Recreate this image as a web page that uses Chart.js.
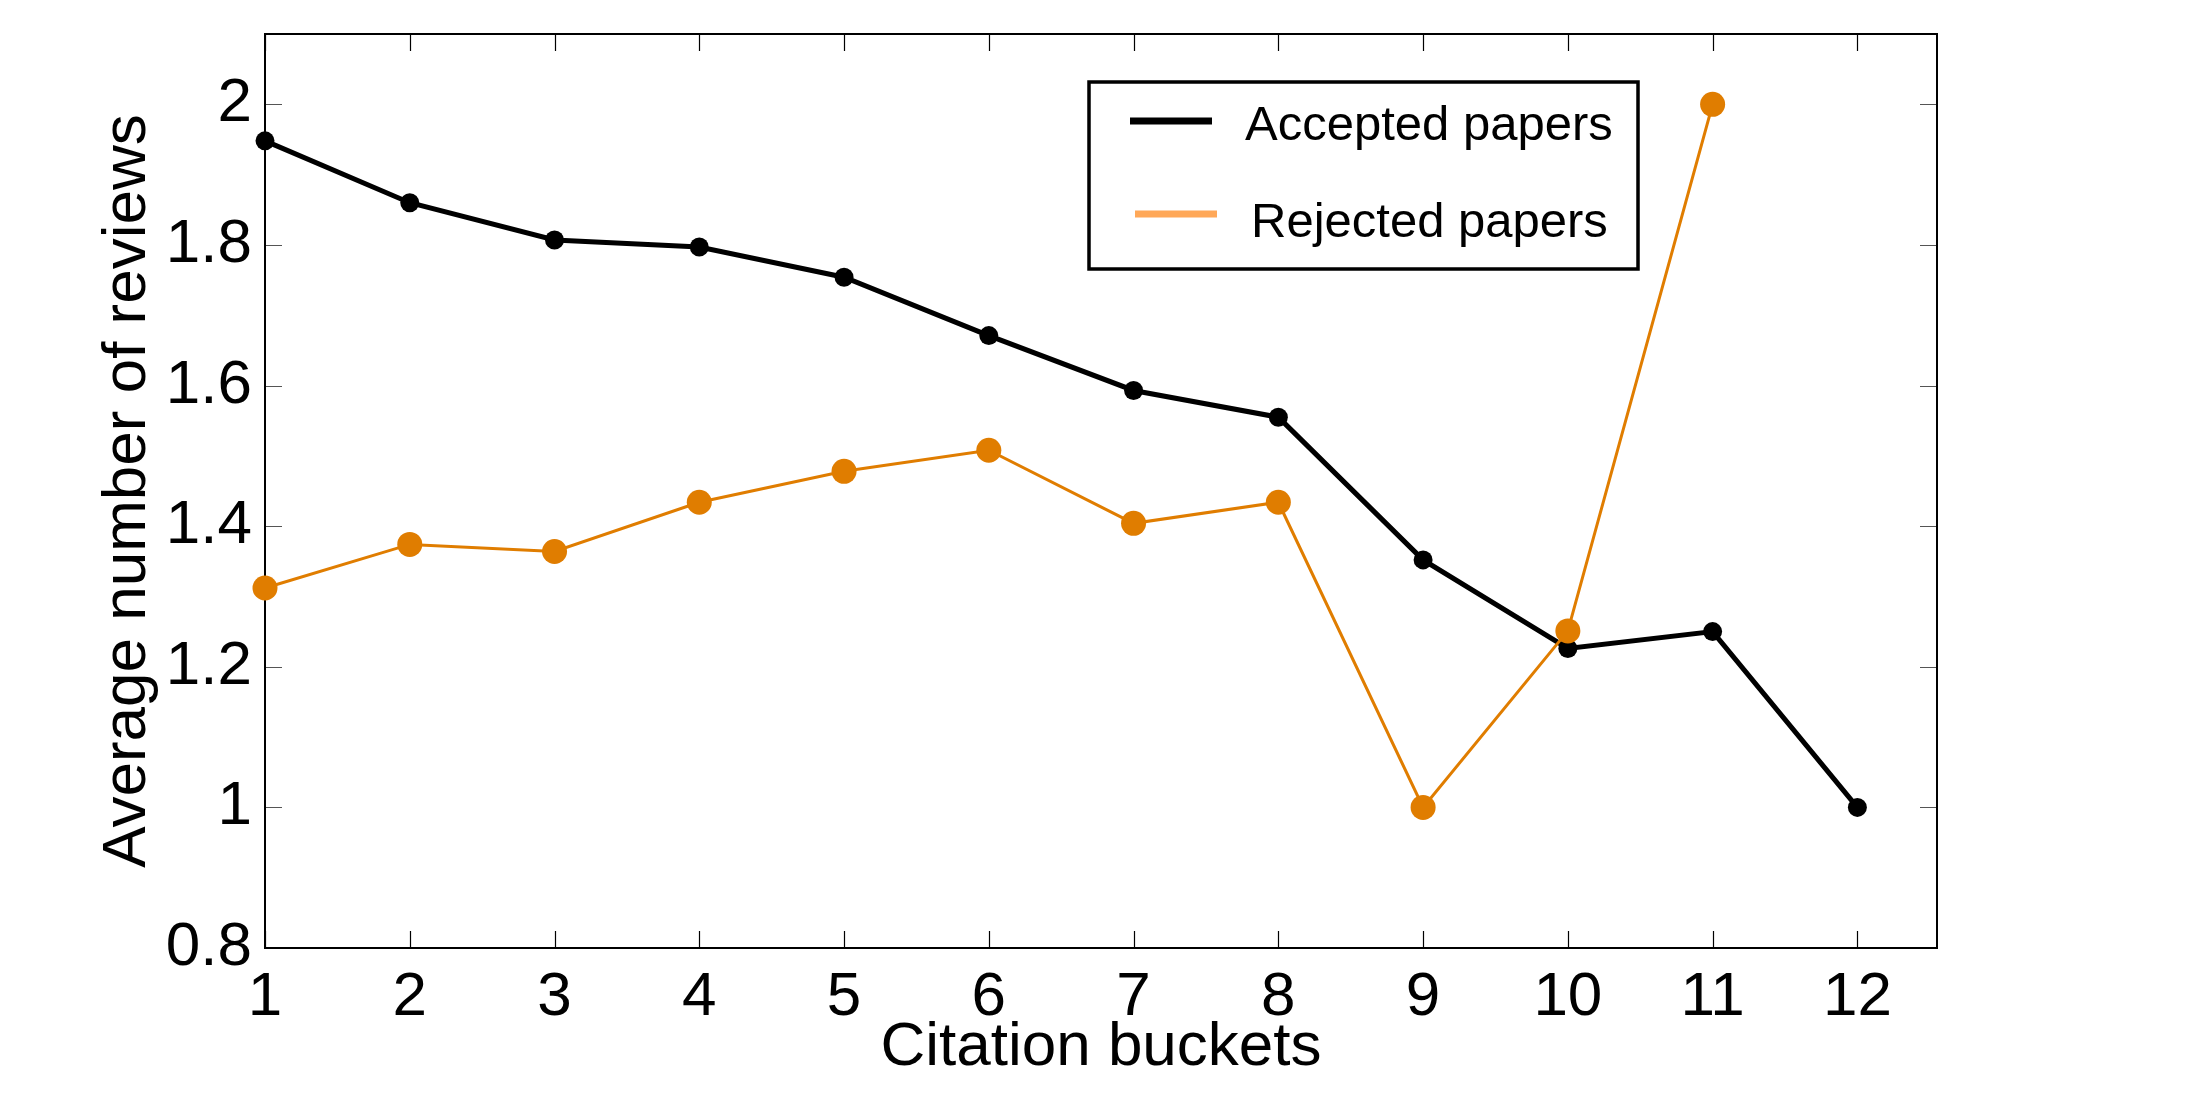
<!DOCTYPE html>
<html><head><meta charset="utf-8">
<script src="https://cdn.jsdelivr.net/npm/chart.js@4/dist/chart.umd.min.js"></script>
<style>html,body{margin:0;padding:0;background:#fff;overflow:hidden}#wrap{width:2194px;height:1115px;position:relative}</style>
</head><body><div id="wrap"><canvas id="c"></canvas></div>
<script>
const categories = [1, 2, 3, 4, 5, 6, 7, 8, 9, 10, 11, 12];
const acceptedValues = [1.948, 1.860, 1.807, 1.797, 1.754, 1.671, 1.593, 1.555, 1.352, 1.226, 1.250, 1.000];
const rejectedValues = [1.312, 1.374, 1.364, 1.434, 1.478, 1.508, 1.404, 1.434, 1.000, 1.251, 2.000, null];
const seriesLabels = ['Accepted papers', 'Rejected papers'];
const xTickValues = [1, 2, 3, 4, 5, 6, 7, 8, 9, 10, 11, 12];
const yTickValues = [0.8, 1.0, 1.2, 1.4, 1.6, 1.8, 2.0];
const yTickLabels = ['0.8', '1', '1.2', '1.4', '1.6', '1.8', '2'];
const xTitle = 'Citation buckets';
const yTitle = 'Average number of reviews';

const FONT = '"Liberation Sans", Arial, Helvetica, sans-serif';
const ORANGE = 'rgb(224,125,0)';
const ORANGE_LEGEND = 'rgb(255,168,88)';

function toPoints(vals) {
  return categories.map((c, i) => ({x: c, y: vals[i]})).filter(p => p.y !== null);
}

const frameAndTicks = {
  id: 'frameAndTicks',
  beforeDatasetsDraw(chart) {
    const {ctx, chartArea: a, scales: {x, y}} = chart;
    ctx.save();
    ctx.strokeStyle = '#000';
    ctx.lineWidth = 1.2;
    const L = 17;
    xTickValues.forEach(v => {
      const px = Math.round(x.getPixelForValue(v)) + 0.5;
      ctx.beginPath();
      ctx.moveTo(px, a.bottom); ctx.lineTo(px, a.bottom - L);
      ctx.moveTo(px, a.top); ctx.lineTo(px, a.top + L);
      ctx.stroke();
    });
    ctx.strokeStyle = '#555';
    yTickValues.forEach(v => {
      const py = Math.round(y.getPixelForValue(v)) + 0.5;
      ctx.beginPath();
      ctx.moveTo(a.left, py); ctx.lineTo(a.left + L, py);
      ctx.moveTo(a.right, py); ctx.lineTo(a.right - L, py);
      ctx.stroke();
    });
    ctx.strokeStyle = '#000';
    ctx.lineWidth = 2;
    ctx.strokeRect(a.left, a.top, a.right - a.left, a.bottom - a.top);
    ctx.restore();
  }
};

const boxLegend = {
  id: 'boxLegend',
  afterDraw(chart) {
    const {ctx} = chart;
    const ds = chart.data.datasets;
    ctx.save();
    ctx.fillStyle = '#fff';
    ctx.fillRect(1089, 82, 549, 187);
    ctx.strokeStyle = '#000';
    ctx.lineWidth = 3.5;
    ctx.strokeRect(1089, 82, 549, 187);
    const rows = [
      {line: [1130, 1212], ly: 121, tx: 1245, ty: 140, color: ds[0].borderColor},
      {line: [1135, 1217], ly: 214, tx: 1251, ty: 237, color: ORANGE_LEGEND}
    ];
    ctx.font = '49px ' + FONT;
    ctx.textBaseline = 'alphabetic';
    ctx.textAlign = 'left';
    rows.forEach((r, i) => {
      ctx.strokeStyle = r.color;
      ctx.lineWidth = 7;
      ctx.beginPath();
      ctx.moveTo(r.line[0], r.ly); ctx.lineTo(r.line[1], r.ly);
      ctx.stroke();
      ctx.fillStyle = '#000';
      ctx.fillText(ds[i].label, r.tx, r.ty);
    });
    ctx.restore();
  }
};

new Chart(document.getElementById('c'), {
  type: 'line',
  data: {
    datasets: [
      {
        label: seriesLabels[0],
        data: toPoints(acceptedValues),
        borderColor: '#000', backgroundColor: '#000',
        borderWidth: 5, pointRadius: 9.5, pointHoverRadius: 9.5,
        pointBorderWidth: 0, tension: 0, clip: false, order: 1
      },
      {
        label: seriesLabels[1],
        data: toPoints(rejectedValues),
        borderColor: ORANGE, backgroundColor: ORANGE,
        borderWidth: 3, pointRadius: 12.5, pointHoverRadius: 12.5,
        pointBorderWidth: 0, tension: 0, clip: false, order: 0
      }
    ]
  },
  options: {
    responsive: true,
    maintainAspectRatio: false,
    animation: false,
    events: [],
    layout: {padding: {top: 34, right: 257, bottom: 0, left: 0}},
    plugins: {legend: {display: false}, tooltip: {enabled: false}},
    scales: {
      x: {
        type: 'linear', min: 1, max: 12.55,
        afterFit(s) { s.height = 167; },
        afterBuildTicks(s) { s.ticks = xTickValues.map(v => ({value: v})); },
        grid: {display: false}, border: {display: false},
        ticks: {
          color: '#000', padding: 11, maxRotation: 0, autoSkip: false,
          font: {family: FONT, size: 62, lineHeight: 1},
          callback: (v) => String(v)
        },
        title: {display: true, text: xTitle, color: '#000',
          font: {family: FONT, size: 62, lineHeight: 1}, padding: {top: 0, bottom: 36}}
      },
      y: {
        type: 'linear', min: 0.8, max: 2.1,
        afterFit(s) { s.width = 265; },
        afterBuildTicks(s) { s.ticks = yTickValues.map(v => ({value: v})); },
        grid: {display: false}, border: {display: false},
        ticks: {
          color: '#000', padding: 5, autoSkip: false,
          font: {family: FONT, size: 62, lineHeight: 0.8},
          callback: (v) => { const i = yTickValues.findIndex(t => Math.abs(t - v) < 1e-9); return i >= 0 ? yTickLabels[i] : ''; }
        },
        title: {display: true, text: yTitle, color: '#000',
          font: {family: FONT, size: 62, lineHeight: 1}, padding: {top: 97, bottom: 0}}
      }
    }
  },
  plugins: [frameAndTicks, boxLegend]
});
</script>
</body></html>
